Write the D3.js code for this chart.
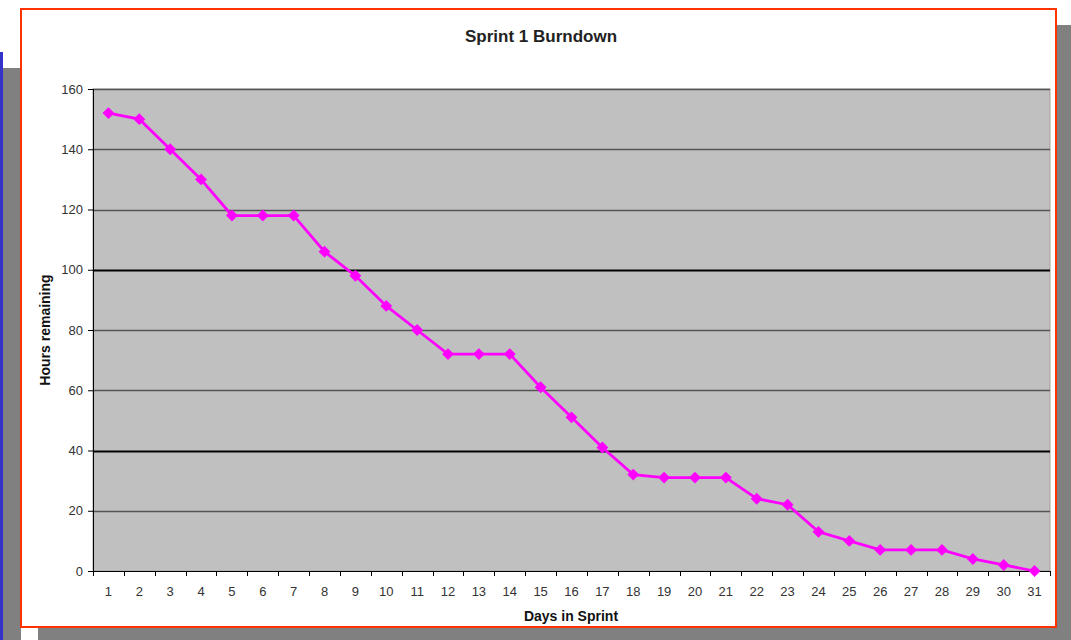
<!DOCTYPE html>
<html>
<head>
<meta charset="utf-8">
<script src="https://cdn.jsdelivr.net/npm/d3@7"></script>
<style>
  body { margin: 0; background: #fff; }
  svg { display: block; font-family: "Liberation Sans", Arial, sans-serif; }
</style>
</head>
<body>
<div id="chart"></div>
<script>
const days = d3.range(1, 32).map(String);
const hoursRemaining = [152, 150, 140, 130, 118, 118, 118, 106, 98, 88, 80, 72, 72, 72, 61, 51, 41, 32, 31, 31, 31, 24, 22, 13, 10, 7, 7, 7, 4, 2, 0];
const yTicks = [0, 20, 40, 60, 80, 100, 120, 140, 160];
const darkLines = [40, 100];

const W = 1071, H = 640;
const svg = d3.select("#chart").append("svg")
    .attr("width", W)
    .attr("height", H);

// slide decoration behind the chart box
svg.append("rect").attr("x", 0).attr("y", 52).attr("width", 3).attr("height", H - 52).attr("fill", "#3333cc");
svg.append("rect").attr("x", 3).attr("y", 68).attr("width", 18).attr("height", H - 68).attr("fill", "#808080");
// drop shadow
svg.append("rect").attr("x", 38).attr("y", 25).attr("width", W - 38).attr("height", H - 25).attr("fill", "#808080");

// chart box
svg.append("rect")
    .attr("x", 21).attr("y", 9)
    .attr("width", 1035).attr("height", 618)
    .attr("fill", "#fff")
    .attr("stroke", "#ff3300")
    .attr("stroke-width", 2);

const m = { left: 93, top: 89, right: 1050, bottom: 571 };

const x = d3.scaleBand().domain(days).range([m.left, m.right]);
const y = d3.scaleLinear().domain([0, 160]).range([m.bottom, m.top]);

svg.append("rect")
    .attr("x", m.left).attr("y", m.top)
    .attr("width", m.right - m.left).attr("height", m.bottom - m.top)
    .attr("fill", "#c0c0c0")
    .attr("stroke", "#a0a0a0");

// gridlines
svg.append("g")
    .selectAll("line")
    .data(yTicks.filter(d => d > 0))
    .enter().append("line")
    .attr("x1", m.left).attr("x2", m.right)
    .attr("y1", d => Math.round(y(d)) + 0.5)
    .attr("y2", d => Math.round(y(d)) + 0.5)
    .attr("stroke", d => darkLines.includes(d) ? "#000" : "#555")
    .attr("stroke-width", d => darkLines.includes(d) ? 1.8 : 1.4);

// y axis
const yAxis = svg.append("g")
    .attr("transform", `translate(${m.left},0)`)
    .call(d3.axisLeft(y).tickValues(yTicks).tickSize(5).tickPadding(5));
yAxis.select(".domain").attr("stroke", "#000");
yAxis.selectAll("line").attr("stroke", "#000");
yAxis.selectAll("text").attr("font-size", 13).attr("fill", "#333")
    .attr("font-family", "Liberation Sans, Arial, sans-serif");

// x axis: ticks between categories
const xg = svg.append("g").attr("transform", `translate(0,${m.bottom})`);
xg.append("line").attr("x1", m.left).attr("x2", m.right).attr("y1", 0.5).attr("y2", 0.5).attr("stroke", "#000");
const bounds = d3.range(0, days.length + 1).map(i => m.left + i * x.step());
xg.selectAll("line.tk")
    .data(bounds)
    .enter().append("line")
    .attr("class", "tk")
    .attr("x1", d => Math.round(d) + 0.5).attr("x2", d => Math.round(d) + 0.5)
    .attr("y1", 0).attr("y2", 5)
    .attr("stroke", "#000");
xg.selectAll("text")
    .data(days)
    .enter().append("text")
    .attr("x", d => x(d) + x.bandwidth() / 2)
    .attr("y", 25)
    .attr("text-anchor", "middle")
    .attr("font-size", 13)
    .attr("fill", "#333")
    .text(d => d);

// line and markers
const line = d3.line()
    .x((d, i) => x(days[i]) + x.bandwidth() / 2)
    .y(d => y(d));

svg.append("path")
    .datum(hoursRemaining)
    .attr("d", line)
    .attr("fill", "none")
    .attr("stroke", "#ff00ff")
    .attr("stroke-width", 2.8);

svg.append("g")
    .selectAll("path")
    .data(hoursRemaining)
    .enter().append("path")
    .attr("d", d3.symbol().type(d3.symbolDiamond2).size(90))
    .attr("transform", (d, i) => `translate(${x(days[i]) + x.bandwidth() / 2},${y(d)})`)
    .attr("fill", "#ff00ff");

// titles
svg.append("text")
    .attr("x", 541).attr("y", 42)
    .attr("text-anchor", "middle")
    .attr("font-size", 17)
    .attr("font-weight", "bold")
    .attr("fill", "#222")
    .text("Sprint 1 Burndown");

svg.append("text")
    .attr("x", 571).attr("y", 621)
    .attr("text-anchor", "middle")
    .attr("font-size", 14)
    .attr("font-weight", "bold")
    .attr("fill", "#111")
    .text("Days in Sprint");

svg.append("text")
    .attr("transform", `translate(50,${(m.top + m.bottom) / 2}) rotate(-90)`)
    .attr("text-anchor", "middle")
    .attr("font-size", 14)
    .attr("font-weight", "bold")
    .attr("fill", "#111")
    .text("Hours remaining");
</script>
</body>
</html>
